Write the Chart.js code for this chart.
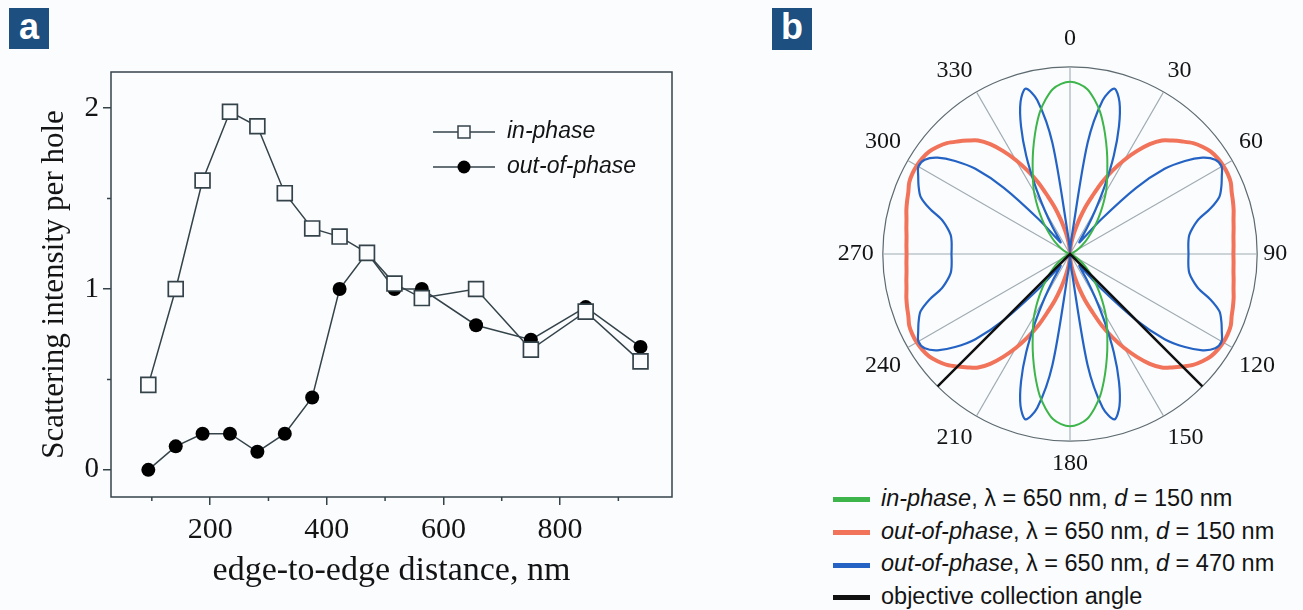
<!DOCTYPE html>
<html>
<head>
<meta charset="utf-8">
<script src="https://cdn.jsdelivr.net/npm/chart.js@4.4.1/dist/chart.umd.min.js"></script>
<style>
  html, body { margin: 0; padding: 0; background: #fbfcfe; overflow: hidden; }
  body { width: 1303px; height: 610px; position: relative; }
  .tag { position: absolute; width: 40px; height: 41px; background: #1d4f80; color: #fff;
         font: bold 36px "Liberation Sans", Arial, sans-serif; text-align: center; line-height: 38px; }
  #chartA { position: absolute; left: 0; top: 0; }
  #chartB { position: absolute; left: 790px; top: 22px; }
  #legendB { position: absolute; left: 833px; top: 482px; font: 23.5px "Liberation Sans", Arial, sans-serif;
             color: #141414; white-space: nowrap; }
  #legendB div { height: 32.7px; line-height: 32.7px; }
  #legendB span.sw { display: inline-block; width: 37px; height: 5px; margin-right: 11px; vertical-align: middle; }
</style>
</head>
<body>
<div class="tag" style="left:9px;top:8px;">a</div>
<div class="tag" style="left:772px;top:8px;height:42px;">b</div>
<canvas id="chartA" width="760" height="610"></canvas>
<canvas id="chartB" width="560" height="460"></canvas>
<div id="legendB">
  <div><span class="sw" style="background:#3db54a"></span><i>in-phase</i>, λ = 650 nm, <i>d</i> = 150 nm</div>
  <div><span class="sw" style="background:#f0735a"></span><i>out-of-phase</i>, λ = 650 nm, <i>d</i> = 150 nm</div>
  <div><span class="sw" style="background:#2463c4"></span><i>out-of-phase</i>, λ = 650 nm, <i>d</i> = 470 nm</div>
  <div><span class="sw" style="background:#111"></span>objective collection angle</div>
</div>
<script>
// ---- panel a data ----
var distances = [94, 141, 187, 234, 281, 328, 375, 422, 469, 516, 563, 656, 750, 844, 938];
var inPhase = [0.47, 1.0, 1.6, 1.98, 1.9, 1.53, 1.335, 1.29, 1.2, 1.03, 0.95, 1.0, 0.665, 0.875, 0.6];
var outOfPhase = [0, 0.13, 0.2, 0.2, 0.1, 0.2, 0.4, 1.0, 1.2, 1.0, 1.0, 0.8, 0.72, 0.9, 0.68];
var xMajorTicks = [200, 400, 600, 800];
var xMinorTicks = [100, 300, 500, 700, 900];
var yMajorTicks = [0, 1, 2];
var yMinorTicks = [0.5, 1.5];

// ---- panel b data (angle in degrees, radius normalised) ----
var angles = [0,3,6,9,12,15,18,21,24,27,30,33,36,39,42,45,48,51,54,57,60,63,66,69,72,75,78,81,84,87,
  90,93,96,99,102,105,108,111,114,117,120,123,126,129,132,135,138,141,144,147,150,153,156,159,162,165,168,171,174,177,
  180,183,186,189,192,195,198,201,204,207,210,213,216,219,222,225,228,231,234,237,240,243,246,249,252,255,258,261,264,267,
  270,273,276,279,282,285,288,291,294,297,300,303,306,309,312,315,318,321,324,327,330,333,336,339,342,345,348,351,354,357];

var inPhase150 = [
  .92,.91,.885,.835,.775,.70,.625,.555,.49,.435,.385,.33,.28,.235,.195,.16,.13,.105,.08,.06,.045,.03,.02,.012,.007,.004,.002,.001,0,0,0,
  0,0,.001,.002,.004,.007,.012,.02,.03,.045,.06,.08,.105,.13,.16,.195,.235,.28,.33,.385,.435,.49,.555,.625,.70,.775,.835,.885,.91,.92,
  .91,.885,.835,.775,.70,.625,.555,.49,.435,.385,.33,.28,.235,.195,.16,.13,.105,.08,.06,.045,.03,.02,.012,.007,.004,.002,.001,0,0,0,
  0,0,.001,.002,.004,.007,.012,.02,.03,.045,.06,.08,.105,.13,.16,.195,.235,.28,.33,.385,.435,.49,.555,.625,.70,.775,.835,.885,.91];

var outPhase150 = [
  0,.02,.05,.085,.13,.19,.26,.33,.42,.5,.58,.655,.725,.78,.815,.85,.885,.91,.93,.94,.945,.945,.94,.925,.915,.905,.893,.885,.878,.875,.873,
  .875,.878,.885,.893,.905,.915,.925,.94,.945,.945,.94,.93,.91,.885,.85,.815,.78,.725,.655,.58,.5,.42,.33,.26,.19,.13,.085,.05,.02,0,
  .02,.05,.085,.13,.19,.26,.33,.42,.5,.58,.655,.725,.78,.815,.85,.885,.91,.93,.94,.945,.945,.94,.925,.915,.905,.893,.885,.878,.875,.873,
  .875,.878,.885,.893,.905,.915,.925,.94,.945,.945,.94,.93,.91,.885,.85,.815,.78,.725,.655,.58,.5,.42,.33,.26,.19,.13,.085,.05,.02];

var outPhase470 = [
  .01,.03,.1,.6,.84,.915,.855,.73,.575,.41,.27,.17,.1,.08,.25,.5,.68,.79,.875,.925,.935,.91,.885,.855,.79,.71,.67,.645,.636,.633,.633,
  .633,.636,.645,.67,.71,.79,.855,.885,.91,.935,.925,.875,.79,.68,.5,.25,.08,.1,.17,.27,.41,.575,.73,.855,.915,.84,.6,.1,.03,.01,
  .03,.1,.6,.84,.915,.855,.73,.575,.41,.27,.17,.1,.08,.25,.5,.68,.79,.875,.925,.935,.91,.885,.855,.79,.71,.67,.645,.636,.633,.633,
  .633,.636,.645,.67,.71,.79,.855,.885,.91,.935,.925,.875,.79,.68,.5,.25,.08,.1,.17,.27,.41,.575,.73,.855,.915,.84,.6,.1,.03];

var collectionAngles = [135, 225];

var axisColor = '#34434a';
var textColor = '#141414';
var serif = '"Liberation Serif", "Times New Roman", serif';
var sans = '"Liberation Sans", Arial, sans-serif';

// frame, minor ticks and the inline legend of panel a
var frameA = {
  id: 'frameA',
  afterDraw: function (chart) {
    var ctx = chart.ctx, a = chart.chartArea;
    var xs = chart.scales.x, ys = chart.scales.y;
    ctx.save();
    ctx.strokeStyle = axisColor;
    ctx.lineWidth = 1.5;
    ctx.strokeRect(a.left, a.top, a.right - a.left, a.bottom - a.top);
    ctx.beginPath();
    xMinorTicks.forEach(function (v) {
      var px = xs.getPixelForValue(v);
      ctx.moveTo(px, a.bottom); ctx.lineTo(px, a.bottom + 4);
    });
    yMinorTicks.forEach(function (v) {
      var py = ys.getPixelForValue(v);
      ctx.moveTo(a.left, py); ctx.lineTo(a.left - 4, py);
    });
    ctx.stroke();

    // legend
    chart.data.datasets.forEach(function (ds, i) {
      var y = 132 + i * 35;
      ctx.strokeStyle = ds.borderColor;
      ctx.lineWidth = 1.5;
      ctx.beginPath();
      ctx.moveTo(433, y); ctx.lineTo(495, y);
      ctx.stroke();
      if (ds.pointStyle === 'rect') {
        ctx.fillStyle = '#fbfcfe';
        ctx.fillRect(458, y - 6, 12, 12);
        ctx.strokeRect(458, y - 6, 12, 12);
      } else {
        ctx.fillStyle = '#000';
        ctx.beginPath();
        ctx.arc(464, y, 6.5, 0, Math.PI * 2);
        ctx.fill();
      }
      ctx.fillStyle = textColor;
      ctx.font = 'italic 23px ' + sans;
      ctx.textBaseline = 'middle';
      ctx.textAlign = 'left';
      ctx.fillText(ds.label, 507, y);
    });
    ctx.restore();
  }
};

function points(ys) {
  return distances.map(function (d, i) { return { x: d, y: ys[i] }; });
}

new Chart(document.getElementById('chartA').getContext('2d'), {
  type: 'line',
  data: {
    datasets: [{
      label: 'in-phase',
      data: points(inPhase),
      borderColor: axisColor,
      borderWidth: 1.5,
      pointStyle: 'rect',
      pointRadius: 10.5,
      pointBorderWidth: 1.7,
      pointBackgroundColor: '#fbfcfe',
      pointBorderColor: axisColor,
      tension: 0
    }, {
      label: 'out-of-phase',
      data: points(outOfPhase),
      borderColor: axisColor,
      borderWidth: 1.5,
      pointStyle: 'circle',
      pointRadius: 7,
      pointBorderWidth: 0,
      pointBackgroundColor: '#000',
      tension: 0
    }]
  },
  options: {
    responsive: false,
    animation: false,
    layout: { padding: { top: 72, right: 88, left: 0, bottom: 0 } },
    plugins: { legend: { display: false }, tooltip: { enabled: false } },
    scales: {
      x: {
        type: 'linear',
        min: 30,
        max: 992,
        afterBuildTicks: function (s) { s.ticks = xMajorTicks.map(function (v) { return { value: v }; }); },
        afterFit: function (s) { s.height = 113; },
        border: { display: false },
        grid: { drawOnChartArea: false, drawTicks: true, tickLength: 8, color: axisColor, lineWidth: 1.5 },
        ticks: { padding: 7, color: textColor, font: { family: serif, size: 30 } },
        title: { display: true, text: 'edge-to-edge distance, nm', color: textColor,
                 font: { family: serif, size: 34 }, padding: { bottom: 19 } }
      },
      y: {
        min: -0.15,
        max: 2.2,
        afterBuildTicks: function (s) { s.ticks = yMajorTicks.map(function (v) { return { value: v }; }); },
        afterFit: function (s) { s.width = 111; },
        border: { display: false },
        grid: { drawOnChartArea: false, drawTicks: true, tickLength: 8, color: axisColor, lineWidth: 1.5 },
        ticks: { padding: 4, color: textColor, font: { family: serif, size: 29 } },
        title: { display: true, text: 'Scattering intensity per hole', color: textColor,
                 font: { family: serif, size: 31 }, padding: { top: 36 } }
      }
    }
  },
  plugins: [frameA]
});

// ---- panel b ----
new Chart(document.getElementById('chartB').getContext('2d'), {
  type: 'radar',
  data: {
    labels: angles,
    datasets: [{
      label: 'in-phase, d = 150 nm',
      data: inPhase150,
      borderColor: '#3db54a',
      borderWidth: 2,
      order: 1
    }, {
      label: 'out-of-phase, d = 150 nm',
      data: outPhase150,
      borderColor: '#f0735a',
      borderWidth: 4,
      order: 3
    }, {
      label: 'out-of-phase, d = 470 nm',
      data: outPhase470,
      borderColor: '#2463c4',
      borderWidth: 2.2,
      order: 2
    }, {
      label: 'objective collection angle',
      data: angles.map(function (a) { return collectionAngles.indexOf(a) >= 0 ? 1 : 0; }),
      borderColor: '#111',
      borderWidth: 2.5,
      tension: 0,
      order: 0
    }]
  },
  options: {
    responsive: false,
    animation: false,
    elements: {
      point: { radius: 0 },
      line: { tension: 0.3, fill: false }
    },
    plugins: { legend: { display: false }, tooltip: { enabled: false } },
    scales: {
      r: {
        min: 0,
        max: 1,
        startAngle: 0,
        ticks: { display: false, stepSize: 1 },
        grid: { circular: true, color: '#5d6a70', lineWidth: 1.2 },
        angleLines: {
          color: function (c) { return c.index % 10 === 0 ? '#9fabb2' : 'rgba(0,0,0,0)'; },
          lineWidth: function (c) { return c.index % 10 === 0 ? 1.1 : 0; }
        },
        pointLabels: {
          display: true,
          color: textColor,
          callback: function (label, index) { return index % 10 === 0 ? String(label) : ''; },
          font: function (c) { return { family: serif, size: c.index % 10 === 0 ? 24 : 1 }; },
          padding: function (c) {
            if (c.index === 0) return 14;
            if (c.index === 30) return 6;
            if (c.index === 90) return 9;
            return c.index % 10 === 0 ? 8 : 0;
          }
        }
      }
    }
  }
});
</script>
</body>
</html>
